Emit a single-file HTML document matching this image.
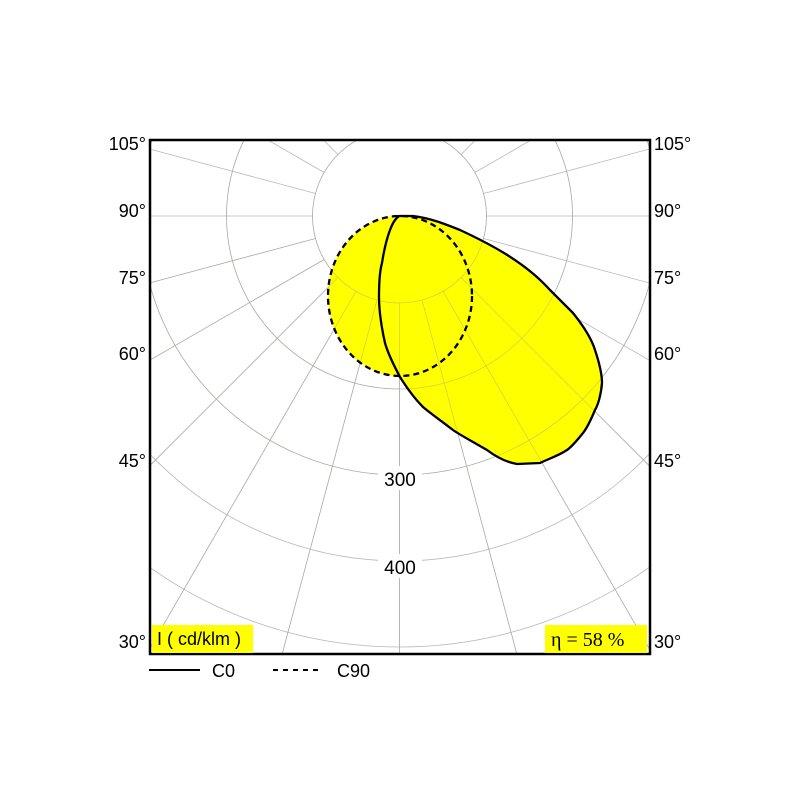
<!DOCTYPE html>
<html><head><meta charset="utf-8"><style>
html,body{margin:0;padding:0;background:#fff;width:800px;height:800px;overflow:hidden;}
svg{display:block;font-family:"Liberation Sans",Arial,sans-serif;overflow:hidden;}
</style></head><body>
<svg width="800" height="800" viewBox="0 0 800 800" xmlns="http://www.w3.org/2000/svg">
<defs><clipPath id="c"><rect x="150" y="140" width="500" height="514"/></clipPath>
<path id="c0" d="M399,216 L413,216 C430,218 445,224 460,230 C490,244 525,262 550,290 L573,313 C585,328 592,340 595,350 C600,365 602,375 602,383 C601,395 598,405 595,410 C590,422 587,428 583,433 C575,443 570,448 567,450 C558,456 548,459 540,463 L517,464 C505,462 495,456 487,450 C470,440 460,435 453,430 C440,420 430,413 423,407 C412,396 405,385 400,377 C392,362 387,350 385,343 C381,325 379,310 379,297 C379,280 380,270 382,263 C384,250 387,238 390,230 C393,222 396,218 399,216 Z"/>
<line id="rad" x1="399.5" y1="303" x2="399.5" y2="1000"/>
</defs>
<g clip-path="url(#c)" stroke="#b8b8b8" stroke-width="0.8" fill="none">
<circle cx="399.5" cy="216" r="87"/>
<circle cx="399.5" cy="216" r="173"/>
<circle cx="399.5" cy="216" r="259"/>
<circle cx="399.5" cy="216" r="345"/>
<circle cx="399.5" cy="216" r="431"/>
<circle cx="399.5" cy="216" r="517"/>
<circle cx="399.5" cy="216" r="603"/>
<use href="#rad"/>
<use href="#rad" transform="rotate(15 399.5 216)"/>
<use href="#rad" transform="rotate(30 399.5 216)"/>
<use href="#rad" transform="rotate(45 399.5 216)"/>
<use href="#rad" transform="rotate(60 399.5 216)"/>
<use href="#rad" transform="rotate(75 399.5 216)"/>
<use href="#rad" transform="rotate(90 399.5 216)"/>
<use href="#rad" transform="rotate(105 399.5 216)"/>
<use href="#rad" transform="rotate(120 399.5 216)"/>
<use href="#rad" transform="rotate(135 399.5 216)"/>
<use href="#rad" transform="rotate(150 399.5 216)"/>
<use href="#rad" transform="rotate(165 399.5 216)"/>
<use href="#rad" transform="rotate(180 399.5 216)"/>
<use href="#rad" transform="rotate(-15 399.5 216)"/>
<use href="#rad" transform="rotate(-30 399.5 216)"/>
<use href="#rad" transform="rotate(-45 399.5 216)"/>
<use href="#rad" transform="rotate(-60 399.5 216)"/>
<use href="#rad" transform="rotate(-75 399.5 216)"/>
<use href="#rad" transform="rotate(-90 399.5 216)"/>
<use href="#rad" transform="rotate(-105 399.5 216)"/>
<use href="#rad" transform="rotate(-120 399.5 216)"/>
<use href="#rad" transform="rotate(-135 399.5 216)"/>
<use href="#rad" transform="rotate(-150 399.5 216)"/>
<use href="#rad" transform="rotate(-165 399.5 216)"/>
</g>
<ellipse cx="400" cy="296" rx="72" ry="80" fill="#ffff00"/>
<use href="#c0" fill="#ffff00"/>
<g clip-path="url(#c)" stroke="#a0a090" stroke-width="0.6" fill="none" opacity="0.6">
<circle cx="399.5" cy="216" r="87"/><circle cx="399.5" cy="216" r="173"/><circle cx="399.5" cy="216" r="259"/>
<use href="#rad"/>
<use href="#rad" transform="rotate(15 399.5 216)"/><use href="#rad" transform="rotate(30 399.5 216)"/><use href="#rad" transform="rotate(45 399.5 216)"/><use href="#rad" transform="rotate(60 399.5 216)"/><use href="#rad" transform="rotate(75 399.5 216)"/>
<use href="#rad" transform="rotate(-15 399.5 216)"/><use href="#rad" transform="rotate(-30 399.5 216)"/><use href="#rad" transform="rotate(-45 399.5 216)"/>
</g>
<ellipse cx="400" cy="296" rx="72" ry="80" fill="none" stroke="#000" stroke-width="2.3" stroke-dasharray="6,4"/>
<use href="#c0" fill="none" stroke="#000" stroke-width="2.3" stroke-linejoin="round"/>
<rect x="150" y="140" width="500" height="514" fill="none" stroke="#000" stroke-width="2.5"/>
<rect x="378" y="466" width="44" height="24" fill="#fff"/>
<text x="400" y="486" font-size="19" text-anchor="middle">300</text>
<rect x="378" y="554" width="44" height="24" fill="#fff"/>
<text x="400" y="574" font-size="19" text-anchor="middle">400</text>
<g font-size="18" fill="#000">
<text x="146" y="150" text-anchor="end">105°</text>
<text x="146" y="217" text-anchor="end">90°</text>
<text x="146" y="284" text-anchor="end">75°</text>
<text x="146" y="360" text-anchor="end">60°</text>
<text x="146" y="467" text-anchor="end">45°</text>
<text x="146" y="648" text-anchor="end">30°</text>
<text x="654" y="150">105°</text>
<text x="654" y="217">90°</text>
<text x="654" y="284">75°</text>
<text x="654" y="360">60°</text>
<text x="654" y="467">45°</text>
<text x="654" y="648">30°</text>
</g>
<rect x="152" y="625" width="101" height="28" fill="#ffff00"/>
<text x="157" y="645" font-size="18">I ( cd/klm )</text>
<rect x="545" y="625" width="102" height="28" fill="#ffff00"/>
<text x="551" y="646" font-size="20" font-family="Liberation Serif,serif">η = 58 %</text>
<line x1="149" y1="670" x2="200" y2="670" stroke="#000" stroke-width="2"/>
<text x="212" y="677" font-size="18">C0</text>
<line x1="273" y1="670" x2="318" y2="670" stroke="#000" stroke-width="2" stroke-dasharray="5,5"/>
<text x="337" y="677" font-size="18">C90</text>
</svg>
</body></html>
